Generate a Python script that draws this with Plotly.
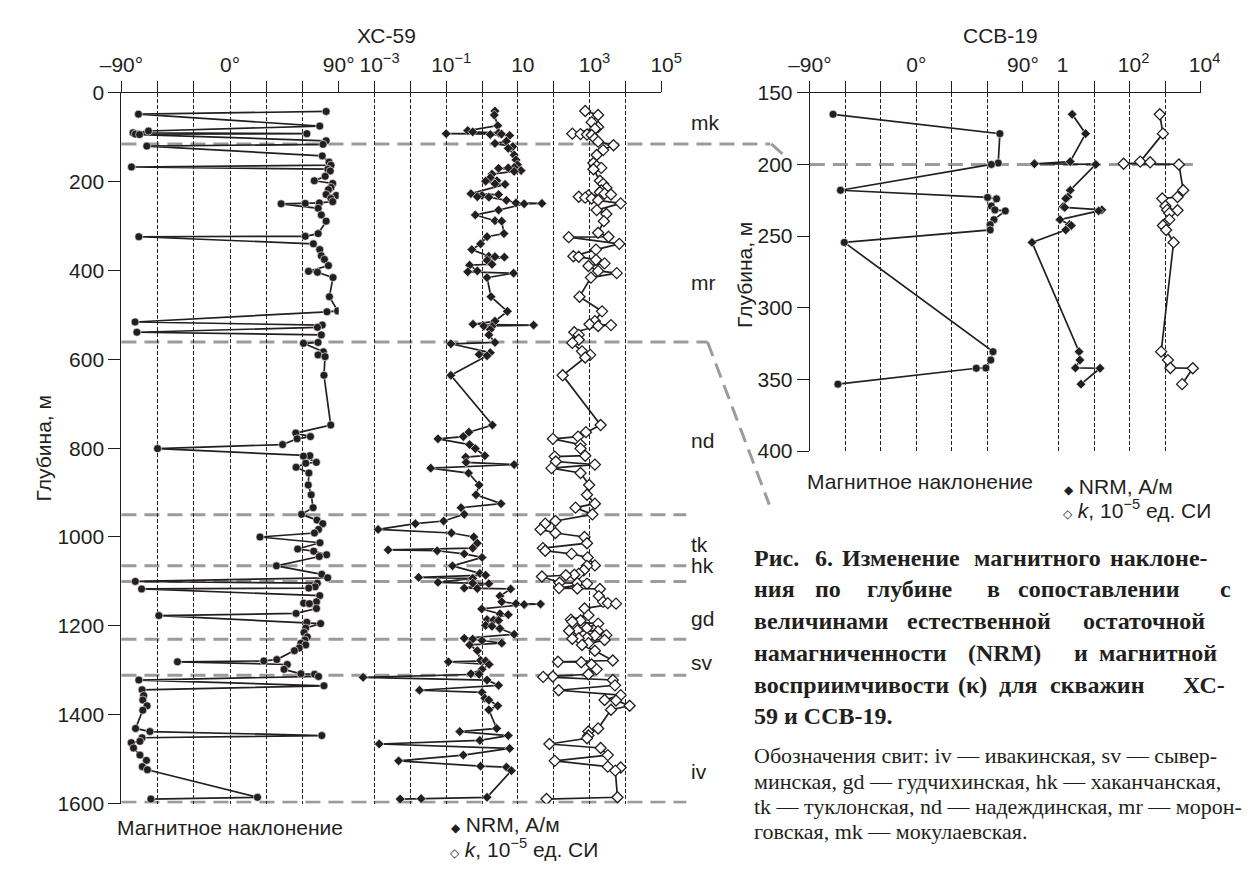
import plotly.graph_objects as go

W, H = 1247, 870
INK = "#231f20"
GREY = "#9b9b9b"
SANS = "Liberation Sans, Arial, sans-serif"
SERIF = "Liberation Serif, Times New Roman, serif"


def fx(p):
    return p / W


def fy(p):
    return 1 - p / H


# ---------------- ХС-59 : magnetic inclination (deg) ----------------
xc_incl_depth = [42, 48, 75, 86, 90, 92, 93, 94, 108, 116, 120, 142, 156, 163, 167, 172, 176, 188, 198, 204,
                 213, 218, 229, 231, 238, 245, 248, 249, 250, 260, 275, 289, 317, 323, 324, 340, 353, 367, 375, 389,
                 402, 404, 416, 459, 491, 493, 516, 523, 528, 539, 545, 562, 564, 583, 590, 594, 636, 748, 766, 774,
                 779, 792, 801, 817, 818, 832, 834, 843, 856, 883, 905, 934, 949, 962, 970, 983, 991, 1000, 1013, 1027,
                 1032, 1040, 1044, 1065, 1084, 1092, 1100, 1104, 1112, 1115, 1117, 1132, 1146, 1149, 1150, 1161, 1172,
                 1177, 1192, 1195, 1205, 1215, 1225, 1232, 1239, 1243, 1250, 1256, 1276, 1279, 1281, 1287, 1298, 1308,
                 1309, 1314, 1322, 1335, 1344, 1357, 1367, 1380, 1390, 1431, 1438, 1447, 1452, 1460, 1463, 1475, 1491,
                 1503, 1517, 1524, 1586, 1590]
xc_incl = [79.6, -75.9, 74.3, -67.6, -80.4, 63.6, -78.5, -75.0, 79.6, 77.0, -69.0, 76.4, 82.0, 83.6, -81.7, 81.0,
           83.0, 78.8, 69.8, 85.0, 83.6, 81.5, 79.6, 88.0, 83.6, 85.0, 74.0, 62.3, 42.3, 73.0, 75.6, 79.6, 73.0, 62.3,
           -75.6, 69.0, 74.3, 75.6, 78.2, 81.5, 65.0, 72.4, 85.3, 82.3, 89.1, 80.3, -78.7, 76.4, 72.4, -77.2, 75.6,
           72.9, 60.8, 77.3, 72.9, 78.7, 77.8, 83.4, 54.4, 66.6, 55.5, 43.5, -60.1, 66.1, 60.8, 71.5, 62.7, 54.7, 65.3,
           64.8, 67.2, 68.8, 59.2, 72.0, 76.8, 73.3, 69.9, 24.8, 74.5, 56.0, 69.3, 80.0, 73.9, 38.4, 76.0, 80.9,
           -78.5, 72.3, 70.5, 65.2, -73.3, 74.3, 71.6, 61.0, 65.7, 71.6, 54.7, -59.0, 63.6, 75.0, 62.7, 61.3, 64.0,
           62.0, 58.7, 62.7, 57.3, 53.3, 38.7, 28.0, -43.6, 47.4, 44.7, 58.7, 70.0, 73.3, -75.6, 77.8, -72.9, -71.6,
           -72.3, -68.8, -72.3, -78.3, -66.4, 76.0, -72.9, -74.7, -81.9, -80.0, -74.7, -69.3, -72.7, -68.5, 22.7,
           -65.6]

# ---------------- ХС-59 : NRM (A/m) ----------------
xc_nrm_depth = [41, 50, 74, 85, 88, 90, 92, 93, 94, 96, 109, 114, 121, 125, 140, 151, 162, 168, 169, 170, 175, 177,
                183, 191, 198, 199, 205, 206, 227, 229, 231, 234, 235, 242, 248, 249, 250, 264, 275, 288, 289, 317,
                324, 340, 353, 368, 369, 370, 377, 386, 388, 401, 403, 406, 416, 459, 492, 514, 521, 523, 525, 526,
                533, 545, 562, 565, 585, 589, 592, 636, 748, 764, 774, 779, 792, 801, 817, 820, 832, 837, 845, 856,
                883, 905, 925, 934, 949, 964, 970, 983, 991, 1000, 1014, 1025, 1029, 1031, 1038, 1046, 1065, 1082,
                1086, 1091, 1093, 1102, 1104, 1105, 1115, 1116, 1117, 1133, 1146, 1150, 1151, 1152, 1162, 1173, 1175,
                1186, 1187, 1188, 1199, 1201, 1206, 1219, 1228, 1230, 1233, 1239, 1243, 1256, 1278, 1279, 1281, 1287,
                1298, 1308, 1309, 1316, 1322, 1334, 1345, 1350, 1363, 1367, 1380, 1389, 1431, 1438, 1447, 1458, 1466,
                1476, 1491, 1504, 1516, 1518, 1526, 1586, 1589, 1590]
xc_nrm = [2.3, 2.2, 2.75, 0.40, 0.55, 2.9, 0.10, 3.5, 1.7, 5.9, 4.8, 2.3, 7.2, 5.4, 7.9, 8.9, 9.8, 7.9, 5.4, 2.9,
          12.3, 7.9, 1.9, 1.7, 2.6, 1.26, 2.3, 4.4, 0.49, 2.9, 1.0, 0.74, 1.55, 4.8, 8.9, 47, 15, 2.9, 0.65, 2.3,
          3.55, 4.1, 1.38, 0.91, 0.52, 1.55, 2.3, 4.2, 1.38, 1.9, 0.45, 0.74, 0.40, 7.6, 1.38, 1.78, 5.1, 2.3, 0.56,
          27.5, 1.12, 1.9, 1.7, 1.55, 2.3, 0.135, 1.7, 0.83, 1.38, 0.135, 1.95, 0.43, 0.30, 0.059, 0.45, 0.65, 1.2,
          0.35, 0.36, 7.9, 0.037, 0.42, 0.83, 0.68, 3.4, 0.26, 0.32, 0.085, 0.0138, 0.00126, 0.14, 0.59, 0.74, 0.55,
          0.0024, 0.056, 0.32, 1.0, 0.15, 0.87, 1.26, 0.017, 0.55, 0.059, 0.55, 1.55, 0.32, 0.74, 6.3, 3.16, 3.55,
          8.9, 43, 15, 0.98, 3.16, 5.4, 1.38, 2.1, 2.9, 1.26, 1.9, 3.16, 7.9, 0.32, 0.55, 1.0, 3.55, 0.45, 0.74,
          0.91, 1.26, 0.115, 1.58, 1.0, 0.49, 0.83, 0.00048, 1.38, 2.9, 0.018, 1.0, 1.2, 1.55, 2.75, 1.55, 2.57,
          0.24, 5.4, 0.87, 0.00135, 5.9, 0.30, 0.0047, 0.91, 4.8, 6.6, 1.38, 0.02, 0.0052]

# ---------------- ХС-59 : magnetic susceptibility k (1e-5 SI) ----------------
xc_k_depth = [41, 50, 66, 77, 81, 92, 93, 94, 95, 103, 110, 118, 129, 140, 158, 165, 169, 172, 198, 205, 214, 220,
              224, 227, 229, 231, 234, 236, 238, 242, 249, 264, 273, 289, 315, 324, 325, 340, 353, 368, 369, 376,
              384, 390, 401, 406, 416, 459, 492, 514, 521, 523, 525, 539, 545, 556, 563, 582, 590, 596, 636, 748,
              764, 774, 779, 792, 801, 817, 819, 830, 837, 845, 856, 883, 905, 925, 934, 949, 964, 970, 983, 991,
              1000, 1014, 1025, 1031, 1038, 1046, 1064, 1065, 1075, 1083, 1085, 1086, 1089, 1103, 1104, 1105, 1115,
              1116, 1117, 1133, 1146, 1149, 1150, 1161, 1176, 1186, 1188, 1191, 1195, 1205, 1210, 1211, 1212, 1221,
              1222, 1227, 1228, 1229, 1232, 1239, 1243, 1256, 1278, 1281, 1282, 1287, 1298, 1309, 1314, 1315, 1322,
              1334, 1345, 1356, 1367, 1368, 1380, 1389, 1431, 1438, 1447, 1453, 1466, 1475, 1491, 1504, 1517, 1519,
              1526, 1586, 1590]
xc_k = [759, 1738, 1148, 1738, 1413, 331, 562, 851, 1148, 1413, 1738, 4677, 2399, 1585, 1288, 1585, 2138, 1288,
        1950, 2399, 2951, 2138, 1950, 2630, 3981, 933, 501, 759, 1148, 1738, 7413, 1585, 2951, 2512, 1738, 3388,
        263, 6761, 1514, 355, 501, 1514, 2630, 933, 1738, 5754, 1096, 525, 2239, 1413, 1000, 3981, 1738, 376, 501,
        501, 331, 617, 1047, 759, 178, 2042, 794, 479, 95, 562, 562, 759, 107, 115, 1413, 87, 562, 977, 851, 1413,
        407, 1202, 112, 58, 43, 112, 724, 851, 50, 58, 316, 891, 1413, 851, 692, 501, 376, 219, 47, 145, 457, 851,
        141, 457, 1950, 1820, 2399, 3236, 5495, 724, 933, 302, 562, 331, 1738, 851, 457, 269, 1738, 2951, 1413,
        851, 501, 331, 2630, 933, 617, 1413, 4467, 132, 589, 1148, 1585, 933, 95, 51, 4467, 5129, 138, 7413, 2630,
        5495, 13183, 3981, 1738, 933, 933, 851, 76, 2042, 3236, 107, 3236, 7413, 5248, 6026, 63]

# ---------------- ССВ-19 ----------------
ssv_incl_depth = [165, 178.5, 199, 200, 218, 223, 224, 229, 231.7, 232.4, 238.5, 242, 245.7, 254.4, 330.6, 336.5,
                  342, 342.2, 353.3]
ssv_incl = [-70.4, 70.5, 69.1, 63.3, -64.1, 60.1, 67.7, 63.3, 66.3, 75.1, 65.5, 62.3, 62.3, -60.9, 64.7, 62.8,
            58.7, 50.6, -66.3]
ssv_nrm_depth = [165, 178.5, 198, 199.5, 200, 218, 222.7, 223.8, 229.5, 230, 231.7, 232.4, 238.5, 241.9, 242.6,
                 245.7, 254.4, 330.6, 336.5, 342, 342.2, 353.3]
ssv_nrm = [2.43, 5.8, 2.14, 0.21, 11.2, 2.14, 1.85, 1.6, 1.35, 1.5, 16.6, 13.5, 1.1, 2.05, 2.3, 1.6, 0.18, 3.8, 4.0,
           3.0, 14.8, 4.3]
ssv_k_depth = [165, 178.5, 198, 198.5, 199.5, 200, 218, 222.7, 223.8, 229, 231.7, 232, 234, 238.5, 241.9, 242.6,
               245.7, 254.4, 330.6, 336.5, 342, 342.2, 353.3]
ssv_k = [708, 871, 200, 380, 68, 2455, 3236, 2239, 832, 1023, 1148, 2239, 1318, 1318, 955, 871, 1072, 1738, 776,
         1202, 1413, 6026, 3020]

# formation (suite) boundaries, depth m
xc_bounds = [115, 561, 950, 1065, 1100, 1230, 1311, 1597]
ssv_bounds = [200]
suite_names = ["mk", "mr", "nd", "tk", "hk", "gd", "sv", "iv"]
suite_label_depth = [66, 427, 782, 1017, 1065, 1184, 1282, 1528]

# tick definitions (labelled ticks + unlabelled grid positions)
incl_label_vals = [-90, 0, 90]
incl_label_text = ["–90°", "0°", "90°"]
incl_grid_vals = [-60, -30, 30, 60]
xc_log_label_vals = [1e-3, 1e-1, 10, 1e3, 1e5]
xc_log_label_text = ["10<sup>−3</sup>", "10<sup>−1</sup>", "10", "10<sup>3</sup>", "10<sup>5</sup>"]
xc_log_grid_vals = [1e-4, 1e-2, 1, 100, 1e4]
ssv_log_label_vals = [1, 100, 1e4]
ssv_log_label_text = ["1", "10<sup>2</sup>", "10<sup>4</sup>"]
ssv_log_grid_vals = [0.1, 10, 1e3]
xc_depth_ticks = [0, 200, 400, 600, 800, 1000, 1200, 1400, 1600]
ssv_depth_ticks = [150, 200, 250, 300, 350, 400]

fig = go.Figure()

line_style = dict(color=INK, width=1.7)
dot = dict(symbol="circle", size=8, color=INK, line=dict(color="white", width=0.6))
dia_f = dict(symbol="diamond", size=7.5, color=INK, line=dict(color="white", width=0.6))
dia_o = dict(symbol="diamond", size=8.5, color="white", line=dict(color=INK, width=1.3))

fig.add_trace(go.Scatter(x=xc_incl, y=xc_incl_depth, mode="lines+markers", line=line_style, marker=dot,
                         xaxis="x", yaxis="y", hoverinfo="skip"))
fig.add_trace(go.Scatter(x=xc_nrm, y=xc_nrm_depth, mode="lines+markers", line=line_style, marker=dia_f,
                         xaxis="x2", yaxis="y", hoverinfo="skip"))
fig.add_trace(go.Scatter(x=xc_k, y=xc_k_depth, mode="lines+markers", line=line_style, marker=dia_o,
                         xaxis="x2", yaxis="y", hoverinfo="skip"))
fig.add_trace(go.Scatter(x=ssv_incl, y=ssv_incl_depth, mode="lines+markers", line=line_style, marker=dot,
                         xaxis="x3", yaxis="y2", hoverinfo="skip"))
fig.add_trace(go.Scatter(x=ssv_nrm, y=ssv_nrm_depth, mode="lines+markers", line=line_style, marker=dia_f,
                         xaxis="x4", yaxis="y2", hoverinfo="skip"))
fig.add_trace(go.Scatter(x=ssv_k, y=ssv_k_depth, mode="lines+markers", line=line_style, marker=dia_o,
                         xaxis="x4", yaxis="y2", hoverinfo="skip"))

tickfont = dict(family=SANS, size=21, color=INK)
GRID = dict(showgrid=True, gridcolor=INK, gridwidth=1, griddash="4px,2px")


def xcfg(domain, anchor, vals, text, grid_vals, **kw):
    d = dict(domain=domain, anchor=anchor, side="top", showline=True, linecolor=INK, linewidth=1.2,
             ticks="outside", ticklen=11, tickwidth=1, tickcolor=INK, zeroline=False, tickfont=tickfont,
             tickangle=0, tickmode="array", tickvals=vals, ticktext=text, fixedrange=True,
             minor=dict(tickmode="array", tickvals=grid_vals, ticks="outside", ticklen=11, tickwidth=1,
                        tickcolor=INK, **GRID),
             **GRID)
    d.update(kw)
    return d


def small_log_ticks(over, anchor, lo, hi):
    # short decade-subdivision ticks above the top axis line
    return dict(overlaying=over, anchor=anchor, side="top", type="log", range=[lo, hi], tickmode="array",
                tickvals=[m * 10.0 ** e for e in range(lo, hi) for m in range(2, 10)], ticks="outside",
                ticklen=4, tickwidth=1, tickcolor=INK, showticklabels=False, showgrid=False, showline=False,
                zeroline=False, fixedrange=True)


def ycfg(domain, anchor, rng, vals):
    return dict(domain=domain, anchor=anchor, range=rng, tickmode="array", tickvals=vals,
                showline=True, linecolor=INK, linewidth=1.2, ticks="outside", ticklen=12, tickwidth=1.2,
                tickcolor=INK, showgrid=False, zeroline=False, tickfont=tickfont, fixedrange=True)


fig.update_layout(
    width=W, height=H, autosize=False, margin=dict(l=0, r=0, t=0, b=0),
    paper_bgcolor="white", plot_bgcolor="rgba(0,0,0,0)", showlegend=False,
    xaxis=xcfg([fx(103), fx(328)], "y", incl_label_vals, incl_label_text, incl_grid_vals, range=[-90, 90]),
    xaxis2=xcfg([fx(328), fx(662)], "y", xc_log_label_vals, xc_log_label_text, xc_log_grid_vals,
                type="log", range=[-4, 5], ticklabelshift=5),
    yaxis=ycfg([fy(813), fy(83)], "x", [1600, 0], xc_depth_ticks),
    xaxis3=xcfg([fx(816), fx(1036.7)], "y2", incl_label_vals, incl_label_text, incl_grid_vals, range=[-90, 90]),
    xaxis4=xcfg([fx(1036.7), fx(1220.7)], "y2", ssv_log_label_vals, ssv_log_label_text, ssv_log_grid_vals,
                type="log", range=[-1, 4], ticklabelshift=4),
    yaxis2=ycfg([fy(451), fy(83)], "x3", [400, 150], ssv_depth_ticks),
    xaxis5=small_log_ticks("x2", "y", -4, 5),
    xaxis6=small_log_ticks("x4", "y2", -1, 4),
)

# ---- suite boundaries ----
bline = dict(color=GREY, width=3, dash="15px,8px")
shapes = []
for d in xc_bounds:
    x1 = 688
    if d == xc_bounds[0]:
        x1 = 775
    elif d == xc_bounds[1]:
        x1 = 710
    shapes.append(dict(type="line", xref="paper", yref="y", x0=fx(103), x1=fx(x1), y0=d, y1=d,
                       line=bline, layer="below"))
for d in ssv_bounds:
    shapes.append(dict(type="line", xref="paper", yref="y2", x0=fx(816), x1=fx(1221), y0=d, y1=d,
                       line=bline, layer="below"))


def depth_px(d):
    return 83 + d * (813 - 83) / 1600.0


# connectors between the two sections
shapes.append(dict(type="line", xref="paper", yref="paper", x0=fx(776), y0=fy(depth_px(xc_bounds[0])),
                   x1=fx(789), y1=fy(147), line=bline, layer="below"))
shapes.append(dict(type="line", xref="paper", yref="paper", x0=fx(710), y0=fy(depth_px(xc_bounds[1])),
                   x1=fx(774), y1=fy(506), line=bline, layer="below"))
fig.update_layout(shapes=shapes)

ann = []


def add(text, x, y, size=21, family=SANS, xanchor="center", yanchor="middle", **kw):
    ann.append(dict(text=text, x=fx(x), y=fy(y), xref="paper", yref="paper", showarrow=False,
                    xanchor=xanchor, yanchor=yanchor, font=dict(family=family, size=size, color=INK), **kw))


add("ХС-59", 378, 24)
add("ССВ-19", 1013, 24)
add("Глубина, м", 22, 448, textangle=-90)
add("Глубина, м", 749, 270, textangle=-90)
add("Магнитное наклонение", 215, 838)
add("Магнитное наклонение", 930, 482)
sym_f = "<span style='font-size:12px'>◆</span> NRM, А/м"
sym_o = "<span style='font-size:12px'>◇</span> <i>k</i>, 10<sup>−5</sup> ед. СИ"
add(sym_f, 442, 835, xanchor="left")
add(sym_o, 441, 859, xanchor="left")
add(sym_f, 1077, 487, xanchor="left")
add(sym_o, 1076, 511, xanchor="left")

for name, d in zip(suite_names, suite_label_depth):
    ann.append(dict(text=name, x=fx(691), y=d, xref="paper", yref="y", showarrow=False, xanchor="left",
                    yanchor="middle", font=dict(family=SANS, size=21, color=INK)))

caption_lines = [
    (561, [("Рис.", 756), ("6.", 819), ("Изменение", 847), ("магнитного", 984), ("наклоне-", 1125)]),
    (593, [("ния", 756), ("по", 819), ("глубине", 873), ("в", 997), ("сопоставлении", 1030), ("с", 1239)]),
    (626, [("величинами", 756), ("естественной", 915), ("остаточной", 1097)]),
    (658, [("намагниченности", 756), ("(NRM)", 978), ("и", 1087), ("магнитной", 1113)]),
    (691, [("восприимчивости", 756), ("(κ)", 967), ("для", 1010), ("скважин", 1063), ("ХС-", 1200)]),
    (723, [("59 и ССВ-19.", 756)]),
]
for y, words in caption_lines:
    for w, x in words:
        add("<b>" + w + "</b>", x, y, size=24, family=SERIF, xanchor="left")

notes = [
    (764, "Обозначения свит: iv — ивакинская, sv — сывер-"),
    (790, "минская, gd — гудчихинская, hk — хаканчанская,"),
    (816, "tk — туклонская, nd — надеждинская, mr — морон-"),
    (842, "говская, mk — мокулаевская."),
]
for y, t in notes:
    add(t, 756, y, size=22, family=SERIF, xanchor="left")

fig.update_layout(annotations=ann)
fig.write_html("out.html")
